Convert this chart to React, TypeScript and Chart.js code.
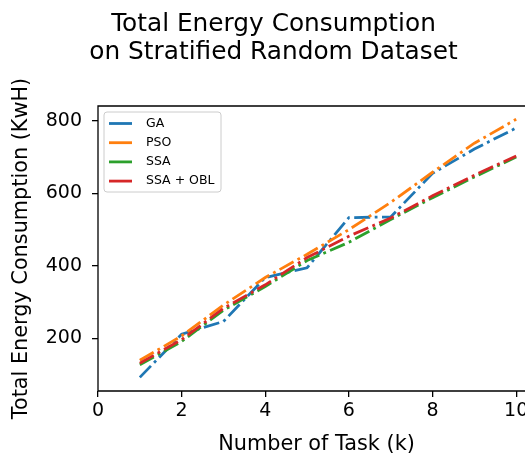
import React, { useEffect, useRef } from "react";
import { Chart, registerables } from "chart.js";

Chart.register(...registerables);

const taskCounts = [1, 2, 3, 4, 5, 6, 7, 8, 9, 10];
const gaValues = [93, 212, 247, 368, 395, 533, 535, 655, 722, 780];
const psoValues = [140, 207, 292, 368, 432, 500, 575, 658, 738, 804];
const ssaValues = [128, 192, 278, 343, 415, 465, 528, 588, 645, 700];
const ssaOblValues = [132, 197, 283, 348, 423, 482, 532, 593, 650, 703];
const seriesLabels = ["GA", "PSO", "SSA", "SSA + OBL"];
const seriesColors = ["#1f77b4", "#ff7f0e", "#2ca02c", "#d62728"];
const xTicks = [0, 2, 4, 6, 8, 10];
const yTicks = [200, 400, 600, 800];
const titleLines = ["Total Energy Consumption", "on Stratified Random Dataset"];
const xAxisTitle = "Number of Task (k)";
const yAxisTitle = "Total Energy Consumption (KwH)";

const FONT = "'DejaVu Sans', sans-serif";

const decorPlugin = {
  id: "decor",
  afterDraw(chart: any) {
    const ctx = chart.ctx as CanvasRenderingContext2D;
    const a = chart.chartArea;
    ctx.save();
    // frame
    ctx.strokeStyle = "#000";
    ctx.lineWidth = 1.3;
    ctx.beginPath();
    ctx.moveTo(a.left, a.bottom);
    ctx.lineTo(a.left, a.top);
    ctx.lineTo(a.right, a.top);
    ctx.lineTo(a.right, a.bottom);
    ctx.lineTo(a.left, a.bottom);
    ctx.stroke();

    // title
    ctx.fillStyle = "#000";
    ctx.font = `24.8px ${FONT}`;
    ctx.textAlign = "center";
    ctx.textBaseline = "alphabetic";
    ctx.fillText(titleLines[0], 273.5, 31);
    ctx.fillText(titleLines[1], 273.5, 59);

    // x axis title
    ctx.font = `20.8px ${FONT}`;
    ctx.fillText(xAxisTitle, (a.left + a.right) / 2, 450);

    // y axis title
    ctx.save();
    ctx.translate(22, (a.top + a.bottom) / 2);
    ctx.rotate(-Math.PI / 2);
    ctx.textBaseline = "middle";
    ctx.fillText(yAxisTitle, 0, 0);
    ctx.restore();

    // legend
    const lx = a.left + 6;
    const ly = a.top + 6;
    const w = 117;
    const h = 80;
    ctx.beginPath();
    (ctx as any).roundRect(lx, ly, w, h, 3);
    ctx.fillStyle = "rgba(255,255,255,0.8)";
    ctx.fill();
    ctx.strokeStyle = "#cccccc";
    ctx.lineWidth = 1;
    ctx.stroke();
    ctx.font = `12.5px ${FONT}`;
    ctx.textAlign = "left";
    ctx.textBaseline = "middle";
    chart.data.datasets.forEach((ds: any, i: number) => {
      const y = ly + 11.5 + i * 19.2;
      ctx.strokeStyle = ds.borderColor;
      ctx.lineWidth = 2.8;
      ctx.setLineDash([]);
      ctx.beginPath();
      ctx.moveTo(lx + 5, y);
      ctx.lineTo(lx + 28, y);
      ctx.stroke();
      ctx.fillStyle = "#000";
      ctx.fillText(ds.label, lx + 42, y);
    });
    ctx.restore();
  },
};

export default function App() {
  const canvasRef = useRef<HTMLCanvasElement | null>(null);

  useEffect(() => {
    const canvas = canvasRef.current;
    if (!canvas) return;
    const seriesValues = [gaValues, psoValues, ssaValues, ssaOblValues];
    const chart = new Chart(canvas, {
      type: "line",
      data: {
        datasets: seriesValues.map((vals, i) => ({
          label: seriesLabels[i],
          data: taskCounts.map((x, j) => ({ x, y: vals[j] })),
          borderColor: seriesColors[i],
          backgroundColor: seriesColors[i],
          borderWidth: 2.8,
          borderDash: [16, 4.5, 2.8, 4.5],
          borderCapStyle: "butt",
          pointRadius: 0,
          tension: 0,
          fill: false,
          order: seriesValues.length - 1 - i,
        })),
      },
      options: {
        animation: false,
        responsive: false,
        devicePixelRatio: 1,
        layout: { padding: { left: 0, top: 106, right: 10, bottom: 0 } },
        plugins: {
          legend: { display: false },
          title: { display: false },
          tooltip: { enabled: false },
        },
        scales: {
          x: {
            type: "linear",
            min: 0,
            max: 10.45,
            afterFit: (scale: any) => {
              scale.height = 63;
            },
            afterBuildTicks: (scale: any) => {
              scale.ticks = xTicks.map((v) => ({ value: v }));
            },
            grid: {
              drawOnChartArea: false,
              drawTicks: true,
              tickLength: 6,
              color: "#000",
              lineWidth: 1.3,
            },
            border: { display: false },
            ticks: {
              color: "#000",
              font: { family: FONT, size: 19 },
              padding: 3,
              maxRotation: 0,
              autoSkip: false,
            },
          },
          y: {
            type: "linear",
            min: 55.5,
            max: 840.5,
            afterFit: (scale: any) => {
              scale.width = 98;
            },
            afterBuildTicks: (scale: any) => {
              scale.ticks = yTicks.map((v) => ({ value: v }));
            },
            grid: {
              drawOnChartArea: false,
              drawTicks: true,
              tickLength: 6,
              color: "#000",
              lineWidth: 1.3,
            },
            border: { display: false },
            ticks: {
              color: "#000",
              font: { family: FONT, size: 19 },
              padding: 10,
              autoSkip: false,
            },
          },
        },
      },
      plugins: [decorPlugin],
    });
    return () => chart.destroy();
  }, []);

  return (
    <div
      style={{
        position: "fixed",
        left: 0,
        top: 0,
        width: 525,
        height: 454,
        overflow: "hidden",
        background: "#fff",
      }}
    >
      <canvas ref={canvasRef} width={545} height={454} style={{ display: "block" }} />
    </div>
  );
}
